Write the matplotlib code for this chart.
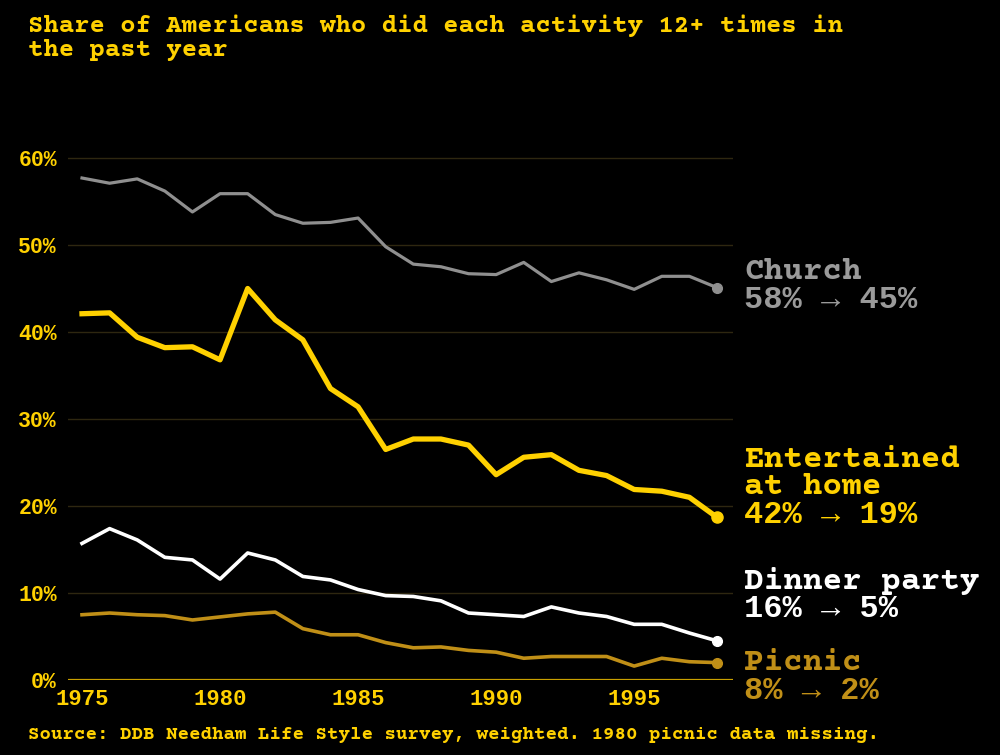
import matplotlib
matplotlib.use("Agg")
import matplotlib.pyplot as plt

years = list(range(1975, 1999))
church = [57.7, 57.1, 57.6, 56.2, 53.8, 55.9, 55.9, 53.5, 52.5, 52.6, 53.1, 49.8,
          47.8, 47.5, 46.7, 46.6, 48.0, 45.8, 46.8, 46.0, 44.9, 46.4, 46.4, 45.1]
entertained = [42.1, 42.2, 39.4, 38.2, 38.3, 36.8, 45.0, 41.4, 39.1, 33.5, 31.4, 26.5,
               27.7, 27.7, 27.0, 23.6, 25.6, 25.9, 24.1, 23.5, 21.9, 21.7, 21.0, 18.7]
dinner = [15.7, 17.4, 16.1, 14.1, 13.8, 11.6, 14.6, 13.8, 11.9, 11.5, 10.4, 9.7,
          9.6, 9.1, 7.7, 7.5, 7.3, 8.4, 7.7, 7.3, 6.4, 6.4, 5.4, 4.5]
picnic_years = [y for y in years if y != 1980]
picnic = [7.5, 7.7, 7.5, 7.4, 6.9, 7.6, 7.8, 5.9, 5.2, 5.2, 4.3, 3.7,
          3.8, 3.4, 3.2, 2.5, 2.7, 2.7, 2.7, 1.6, 2.5, 2.1, 2.0]
yticks = [0, 10, 20, 30, 40, 50, 60]
xticks = [1975, 1980, 1985, 1990, 1995]

title_lines = ["Share of Americans who did each activity 12+ times in", "the past year"]
source = "Source: DDB Needham Life Style survey, weighted. 1980 picnic data missing."
label_names = ["Church", "Entertained\nat home", "Dinner party", "Picnic"]
label_values = ["58% \u2192 45%", "42% \u2192 19%", "16% \u2192 5%", "8% \u2192 2%"]

YEL = "#ffd100"
GRAY = "#8f8f8f"
GRAYT = "#9a9a9a"
WHITE = "#ffffff"
PIC = "#c08f17"
SERIF = ["Courier Prime", "Nimbus Mono PS", "Courier New", "FreeMono", "Liberation Mono"]
SANS = ["Liberation Mono", "DejaVu Sans Mono"]

W, H = 1000, 755
fig = plt.figure(figsize=(10, 7.55), dpi=100, facecolor="black")
ax = fig.add_axes([68 / W, (H - 680) / H, 665 / W, (680 - 140.6) / H], facecolor="black")
ax.set_xlim(1975 - 14 / 27.6, 1998 + 16 / 27.6)
ax.set_ylim(0, 62)
for s in ax.spines.values():
    s.set_visible(False)

for t in yticks[1:]:
    ax.axhline(t, color="#2e2710", lw=1.0, zorder=1)
ax.axhline(0, color="#c9a000", lw=1.6, zorder=1)

ax.plot(years, church, color=GRAY, lw=2.3, zorder=3)
ax.plot(years, entertained, color=YEL, lw=3.8, zorder=4)
ax.plot(years, dinner, color=WHITE, lw=2.6, zorder=3)
ax.plot(picnic_years, picnic, color=PIC, lw=2.6, zorder=3)
for xs, ys, c, ms in [(years, church, GRAY, 7), (years, entertained, YEL, 8),
                      (years, dinner, WHITE, 7), (picnic_years, picnic, PIC, 7)]:
    ax.plot([xs[-1]], [ys[-1]], "o", color=c, ms=ms, zorder=5)

ax.set_yticks(yticks)
ax.set_yticklabels([f"{t}%" for t in yticks], fontfamily=SANS, fontweight="bold",
                   fontsize=15.5, color=YEL)
ax.set_xticks(xticks)
ax.set_xticklabels([str(t) for t in xticks], fontfamily=SANS, fontweight="bold",
                   fontsize=16, color=YEL)
ax.tick_params(axis="y", length=0, pad=8)
ax.tick_params(axis="x", length=0, pad=6.5)

def ftxt(x, y, s, color, family, size, ls=1.0):
    fig.text(x / W, 1 - y / H, s, color=color, fontfamily=family, fontweight="bold",
             fontsize=size, ha="left", va="center", linespacing=ls)

ftxt(28, 26, title_lines[0], YEL, SERIF, 18.45)
ftxt(28, 50, title_lines[1], YEL, SERIF, 18.45)
ftxt(28, 735, source, YEL, SERIF, 13.75)

LX = 744
colors = [GRAYT, YEL, WHITE, PIC]
name_y = [272, 473, 581, 663]
value_y = [300, 515, 609, 691]
for nm, val, c, ny, vy in zip(label_names, label_values, colors, name_y, value_y):
    ftxt(LX, ny, nm, c, SERIF, 23.5, ls=0.99)
    ftxt(LX, vy, val, c, SANS, 23)

fig.savefig("out.png", dpi=100, facecolor="black")
